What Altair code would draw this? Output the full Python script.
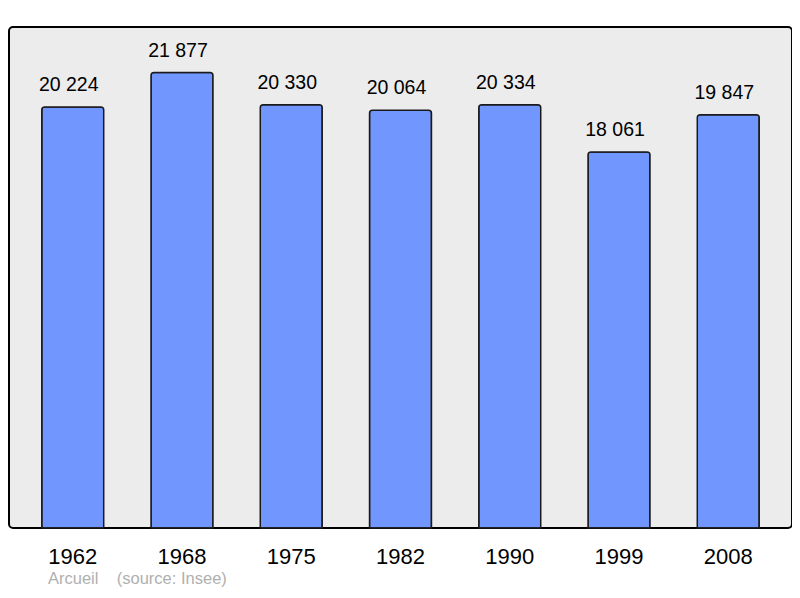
import altair as alt
import pandas as pd

years = ["1962", "1968", "1975", "1982", "1990", "1999", "2008"]
population = [20224, 21877, 20330, 20064, 20334, 18061, 19847]
labels = ["20 224", "21 877", "20 330", "20 064", "20 334", "18 061", "19 847"]

df = pd.DataFrame({"year": years, "pop": population, "label": labels})

FONT = "Liberation Sans"

x = alt.X("year:N", sort=years,
          scale=alt.Scale(paddingInner=0.433, paddingOuter=0.3),
          axis=alt.Axis(title=None, labelAngle=0, labelFontSize=22, labelFont=FONT,
                        labelColor="#000000", domain=False, ticks=False,
                        labelPadding=18))
y = alt.Y("pop:Q", scale=alt.Scale(domain=[0, 24065], nice=False),
          axis=None)

bars = alt.Chart(df).mark_bar(
    color="#7197ff", stroke="#1a1a1a", strokeWidth=1.5,
    cornerRadiusTopLeft=3, cornerRadiusTopRight=3
).encode(x=x, y=y)

text = alt.Chart(df).mark_text(
    dy=-16, dx=-4, baseline="alphabetic", fontSize=19.5, font=FONT, color="#000000"
).encode(x=x, y=y, text="label:N")

chart = (bars + text).properties(
    width=783, height=501,
    padding={"left": 1, "top": 19, "right": 0, "bottom": 62},
    autosize=alt.AutoSizeParams(type="none"),
    title=alt.TitleParams(
        text="Arcueil\u00a0\u00a0\u00a0\u00a0(source: Insee)",
        orient="bottom", anchor="start", font=FONT, fontSize=16.5,
        fontWeight="normal", color="#b0b0b0", offset=4, dx=39,
    ),
).configure_view(
    fill="#ececec", stroke="#000000", strokeWidth=2, cornerRadius=4
)

chart.save("out.html", embed_options={"renderer": "svg", "actions": False})
